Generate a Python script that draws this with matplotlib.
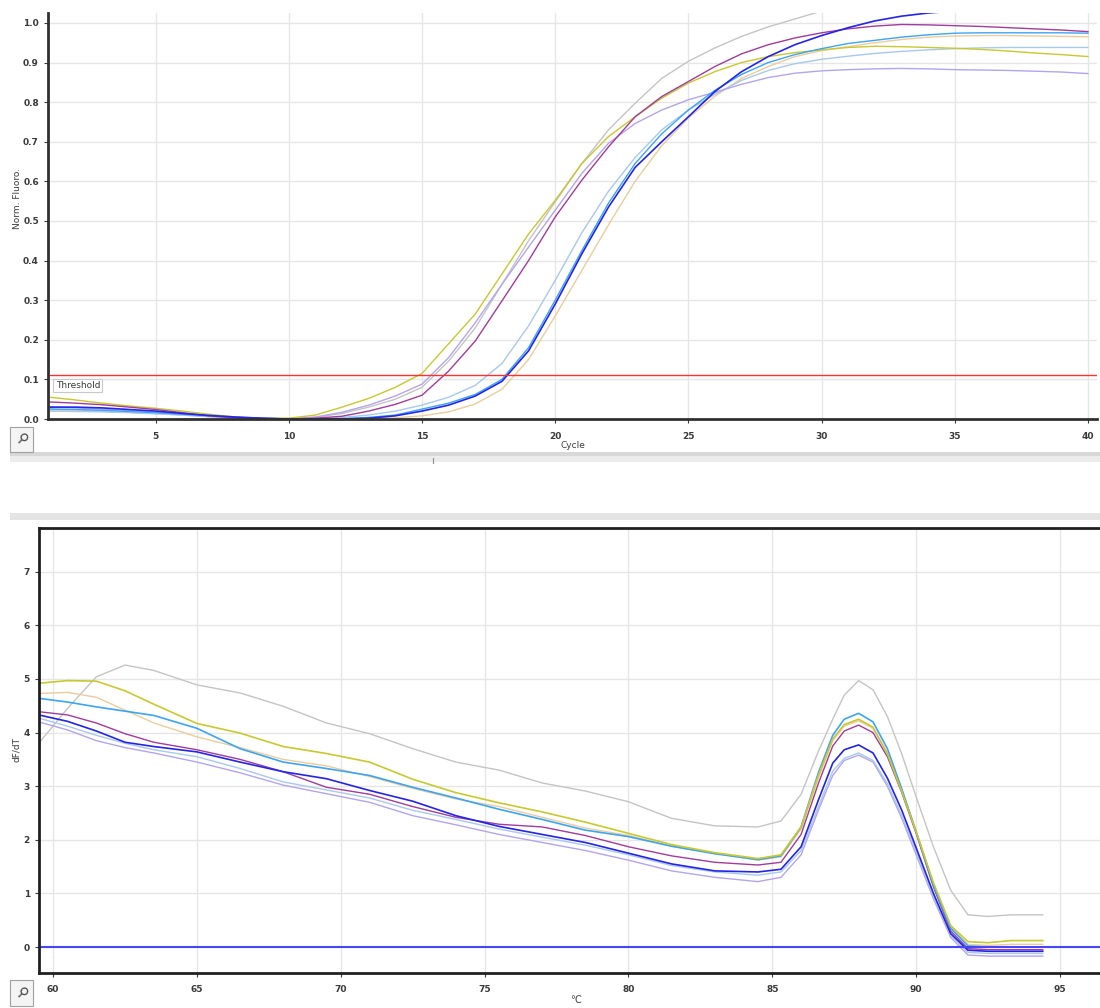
import matplotlib
matplotlib.use("Agg")
import matplotlib.pyplot as plt
from matplotlib.patches import Rectangle

# ---------------- amplification data (top panel) ----------------
cycles = list(range(1, 41))

amp_gray = [0.025, 0.023, 0.020, 0.017, 0.014, 0.010, 0.006, 0.003, 0.001, 0.000,
            0.004, 0.014, 0.030, 0.050, 0.080, 0.146, 0.230, 0.340, 0.450, 0.548,
            0.645, 0.730, 0.797, 0.860, 0.903, 0.937, 0.966, 0.990, 1.010, 1.030,
            1.040, 1.045, 1.050, 1.052, 1.053, 1.054, 1.054, 1.053, 1.052, 1.050]
amp_yellow = [0.055, 0.048, 0.040, 0.033, 0.027, 0.020, 0.012, 0.005, 0.002, 0.002,
              0.010, 0.030, 0.052, 0.080, 0.115, 0.190, 0.265, 0.366, 0.467, 0.552,
              0.645, 0.713, 0.763, 0.810, 0.848, 0.877, 0.900, 0.915, 0.925, 0.932,
              0.938, 0.941, 0.940, 0.938, 0.936, 0.933, 0.929, 0.924, 0.920, 0.915]
amp_magenta = [0.043, 0.040, 0.036, 0.030, 0.024, 0.016, 0.008, 0.003, 0.001, 0.000,
               0.002, 0.007, 0.020, 0.037, 0.060, 0.121, 0.197, 0.298, 0.400, 0.510,
               0.603, 0.687, 0.763, 0.814, 0.852, 0.890, 0.922, 0.945, 0.962, 0.975,
               0.985, 0.992, 0.996, 0.995, 0.993, 0.991, 0.988, 0.985, 0.982, 0.978]
amp_lavender = [0.030, 0.028, 0.025, 0.021, 0.017, 0.012, 0.007, 0.003, 0.001, 0.001,
                0.005, 0.017, 0.035, 0.058, 0.088, 0.155, 0.243, 0.340, 0.434, 0.527,
                0.620, 0.696, 0.746, 0.780, 0.806, 0.825, 0.845, 0.862, 0.873, 0.879,
                0.882, 0.884, 0.885, 0.884, 0.882, 0.881, 0.880, 0.878, 0.876, 0.872]
amp_blue = [0.030, 0.030, 0.028, 0.024, 0.020, 0.014, 0.009, 0.005, 0.002, 0.000,
            0.000, 0.000, 0.002, 0.008, 0.020, 0.035, 0.058, 0.095, 0.172, 0.290,
            0.417, 0.535, 0.635, 0.700, 0.763, 0.827, 0.877, 0.915, 0.945, 0.968,
            0.988, 1.005, 1.017, 1.025, 1.030, 1.033, 1.035, 1.037, 1.038, 1.040]
amp_sky = [0.025, 0.024, 0.022, 0.019, 0.016, 0.012, 0.008, 0.004, 0.002, 0.000,
           0.000, 0.001, 0.004, 0.010, 0.025, 0.040, 0.062, 0.100, 0.180, 0.300,
           0.425, 0.545, 0.645, 0.720, 0.780, 0.830, 0.870, 0.900, 0.920, 0.935,
           0.948, 0.956, 0.964, 0.970, 0.974, 0.975, 0.975, 0.975, 0.975, 0.974]
amp_pale = [0.020, 0.019, 0.018, 0.016, 0.013, 0.010, 0.006, 0.003, 0.001, 0.000,
            0.001, 0.004, 0.010, 0.020, 0.035, 0.055, 0.085, 0.140, 0.235, 0.350,
            0.470, 0.575, 0.660, 0.730, 0.780, 0.820, 0.855, 0.880, 0.897, 0.908,
            0.916, 0.923, 0.928, 0.932, 0.935, 0.937, 0.938, 0.938, 0.938, 0.938]
amp_tan = [0.020, 0.020, 0.019, 0.017, 0.014, 0.011, 0.007, 0.003, 0.001, 0.000,
           0.000, 0.000, 0.001, 0.003, 0.008, 0.018, 0.038, 0.075, 0.150, 0.260,
           0.375, 0.490, 0.600, 0.690, 0.760, 0.815, 0.860, 0.890, 0.915, 0.930,
           0.940, 0.950, 0.958, 0.964, 0.967, 0.968, 0.968, 0.967, 0.966, 0.965]
threshold = 0.11

# ---------------- melt data (bottom panel) ----------------
temps = [59.5, 60.5, 61.5, 62.5, 63.5, 65, 66.5, 68, 69.5, 71, 72.5, 74, 75.5, 77,
         78.5, 80, 81.5, 83, 84.5, 85.3, 86, 86.6, 87.1, 87.5, 88, 88.5, 89, 89.5,
         90, 90.6, 91.2, 91.8, 92.5, 93.3, 94.4]

melt_gray = [3.80, 4.45, 5.04, 5.26, 5.16, 4.89, 4.74, 4.49, 4.18, 3.98, 3.70, 3.45,
             3.30, 3.06, 2.91, 2.71, 2.40, 2.26, 2.24, 2.35, 2.85, 3.65, 4.25, 4.70,
             4.97, 4.80, 4.30, 3.60, 2.80, 1.87, 1.06, 0.60, 0.57, 0.60, 0.60]
melt_yellow = [4.92, 4.97, 4.96, 4.78, 4.53, 4.17, 3.99, 3.74, 3.61, 3.45, 3.13, 2.88,
               2.69, 2.52, 2.33, 2.12, 1.91, 1.76, 1.65, 1.72, 2.24, 3.20, 3.88, 4.15,
               4.25, 4.10, 3.60, 2.90, 2.15, 1.20, 0.40, 0.10, 0.08, 0.12, 0.12]
melt_sky = [4.64, 4.57, 4.48, 4.40, 4.32, 4.08, 3.70, 3.45, 3.33, 3.20, 2.98, 2.78,
            2.57, 2.38, 2.18, 2.06, 1.88, 1.74, 1.63, 1.70, 2.24, 3.25, 3.95, 4.25,
            4.36, 4.20, 3.70, 2.95, 2.15, 1.15, 0.35, 0.02, 0.00, 0.00, 0.00]
melt_tan = [4.73, 4.75, 4.66, 4.42, 4.18, 3.92, 3.72, 3.50, 3.38, 3.18, 2.96, 2.76,
            2.62, 2.42, 2.22, 2.08, 1.88, 1.75, 1.62, 1.68, 2.20, 3.15, 3.85, 4.12,
            4.22, 4.08, 3.62, 2.92, 2.15, 1.18, 0.38, 0.05, 0.03, 0.05, 0.05]
melt_magenta = [4.39, 4.33, 4.18, 3.98, 3.82, 3.68, 3.50, 3.27, 2.98, 2.85, 2.62, 2.42,
                2.29, 2.24, 2.08, 1.87, 1.70, 1.58, 1.53, 1.58, 2.10, 3.05, 3.75, 4.03,
                4.14, 4.00, 3.55, 2.88, 2.12, 1.12, 0.30, -0.03, -0.05, -0.05, -0.05]
melt_blue = [4.33, 4.21, 4.03, 3.82, 3.74, 3.64, 3.45, 3.27, 3.14, 2.92, 2.72, 2.45,
             2.25, 2.10, 1.95, 1.75, 1.55, 1.42, 1.40, 1.45, 1.87, 2.74, 3.43, 3.68,
             3.77, 3.62, 3.15, 2.55, 1.85, 1.00, 0.25, -0.06, -0.08, -0.08, -0.08]
melt_pale = [4.27, 4.12, 3.95, 3.80, 3.68, 3.55, 3.33, 3.08, 2.93, 2.78, 2.55, 2.38,
             2.20, 2.05, 1.90, 1.72, 1.52, 1.40, 1.34, 1.40, 1.80, 2.62, 3.28, 3.52,
             3.62, 3.48, 3.05, 2.45, 1.78, 0.95, 0.22, -0.10, -0.12, -0.12, -0.12]
melt_lavender = [4.20, 4.05, 3.85, 3.72, 3.62, 3.45, 3.25, 3.02, 2.86, 2.70, 2.45, 2.28,
                 2.10, 1.95, 1.80, 1.62, 1.42, 1.30, 1.22, 1.30, 1.72, 2.55, 3.20, 3.48,
                 3.58, 3.45, 3.00, 2.40, 1.72, 0.90, 0.18, -0.15, -0.17, -0.17, -0.17]

colors = {
    "gray": "#c4c4c4",
    "yellow": "#c8c830",
    "magenta": "#a03c9c",
    "lavender": "#b4a4ec",
    "blue": "#2424e6",
    "sky": "#3ca4f4",
    "pale": "#a8c8ee",
    "tan": "#eccc9c",
}

amp_series = [("gray", amp_gray), ("tan", amp_tan), ("pale", amp_pale),
              ("lavender", amp_lavender), ("yellow", amp_yellow),
              ("sky", amp_sky), ("magenta", amp_magenta), ("blue", amp_blue)]
melt_series = [("gray", melt_gray), ("lavender", melt_lavender), ("pale", melt_pale),
               ("tan", melt_tan), ("magenta", melt_magenta), ("blue", melt_blue),
               ("sky", melt_sky), ("yellow", melt_yellow)]

W, H = 1100, 1008
TXT = "#3a3a3a"


def box(x0, y0, x1, y1):
    # pixel box (top-left origin) -> figure fraction rect
    return [x0 / W, 1 - y1 / H, (x1 - x0) / W, (y1 - y0) / H]


def style_axes(ax):
    ax.grid(True, color="#e6e6e6", lw=1.0)
    ax.set_axisbelow(True)
    ax.tick_params(labelsize=6.5, colors=TXT, length=3, width=0.8)
    for lab in ax.get_xticklabels() + ax.get_yticklabels():
        lab.set_fontweight("bold")


fig = plt.figure(figsize=(W / 100, H / 100), dpi=100)

# ---------------- top panel ----------------
ax1 = fig.add_axes(box(48, 13, 1097, 419))
for name, vals in amp_series:
    ax1.plot(cycles, vals, color=colors[name], lw=1.2 if name == "blue" else 1.0)
ax1.axhline(threshold, color="#ff3030", lw=1.0)
ax1.text(1.25, 0.085, "Threshold", fontsize=6.5, color=TXT, va="center", ha="left",
         bbox=dict(boxstyle="square,pad=0.25", fc="white", ec="#c8c8c8", lw=0.8))
ax1.set_xlim(0.96, 40.34)
ax1.set_ylim(0, 1.025)
ax1.set_xticks(range(5, 41, 5))
ax1.set_yticks([i / 10 for i in range(11)])
ax1.set_yticklabels([f"{i / 10:.1f}" for i in range(11)])
ax1.tick_params(axis="x", pad=6)
for s in ["top", "right"]:
    ax1.spines[s].set_visible(False)
for s in ["left", "bottom"]:
    ax1.spines[s].set_color("#303030")
    ax1.spines[s].set_linewidth(2)
style_axes(ax1)
fig.text(573 / W, 1 - 446 / H, "Cycle", fontsize=6.5, color=TXT, ha="center", va="center")
fig.text(17 / W, 1 - 198 / H, "Norm. Fluoro.", fontsize=6.5, color=TXT, rotation=90,
         ha="center", va="center")

# ---------------- bottom panel ----------------
ax2 = fig.add_axes(box(39, 528, 1100, 973))
for name, vals in melt_series:
    ax2.plot(temps, vals, color=colors[name], lw=1.2 if name in ("blue", "sky", "yellow") else 1.0)
ax2.axhline(0, color="#4646ff", lw=1.5)
ax2.set_xlim(59.51, 96.39)
ax2.set_ylim(-0.485, 7.817)
ax2.set_xticks(range(60, 96, 5))
ax2.set_yticks(range(0, 8))
ax2.tick_params(axis="x", pad=6)
ax2.spines["right"].set_visible(False)
for s in ["left", "bottom", "top"]:
    ax2.spines[s].set_color("#202020")
    ax2.spines[s].set_linewidth(2)
style_axes(ax2)
fig.text(576 / W, 1 - 1000 / H, "\u2103", fontsize=7, color=TXT, ha="center", va="center")
fig.text(16 / W, 1 - 750 / H, "dF/dT", fontsize=6.5, color=TXT, rotation=90,
         ha="center", va="center")

# ---------------- window chrome: toolbars and wrench buttons ----------------
for rect, fc in [((10, 452, 1100, 456), "#d8d8d8"), ((10, 456, 1100, 462), "#ececec"),
                 ((10, 513, 1100, 520), "#e4e4e4")]:
    x0, y0, x1, y1 = rect
    fig.add_artist(Rectangle((x0 / W, 1 - y1 / H), (x1 - x0) / W, (y1 - y0) / H,
                             transform=fig.transFigure, fc=fc, ec="none"))
fig.add_artist(plt.Line2D([433 / W, 433 / W], [1 - 458 / H, 1 - 463 / H],
                          transform=fig.transFigure, color="#909090", lw=0.8))
for (x0, y0, x1, y1) in [(10, 427, 33, 452), (10, 980, 33, 1006)]:
    fig.add_artist(Rectangle((x0 / W, 1 - y1 / H), (x1 - x0) / W, (y1 - y0) / H,
                             transform=fig.transFigure, fc="#f4f4f4", ec="#a0a0a0", lw=0.8))
    fig.text((x0 + x1) / 2 / W, 1 - (y0 + y1) / 2 / H, "\u26b2", fontsize=10,
             color="#404040", ha="center", va="center", rotation=-45)

fig.savefig("out.png", dpi=100)
